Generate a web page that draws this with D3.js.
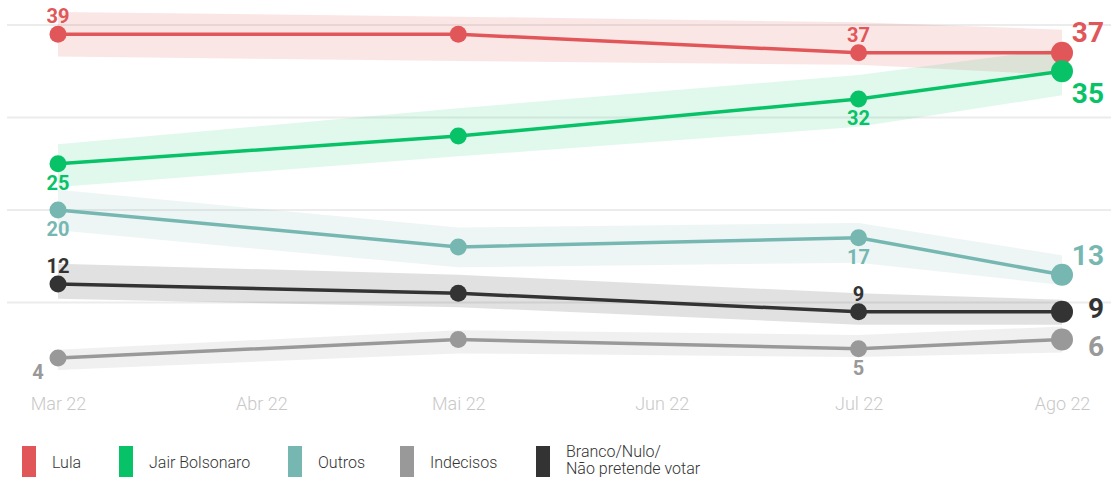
<!DOCTYPE html>
<html><head><meta charset="utf-8">
<script src="https://cdn.jsdelivr.net/npm/d3@7"></script>
<style>html,body{margin:0;padding:0;background:#fff}svg{display:block}</style>
</head><body>
<svg id="c" width="1111" height="478"></svg>
<script>
// ---- data ----
const dates = ["2022-03-01","2022-05-01","2022-07-01","2022-08-01"];
const tickDates = ["2022-03-01","2022-04-01","2022-05-01","2022-06-01","2022-07-01","2022-08-01"];
const tickLabels = ["Mar 22","Abr 22","Mai 22","Jun 22","Jul 22","Ago 22"];
const gridValues = [10,20,30,40];
const seriesNames = ["Lula","Jair Bolsonaro","Outros","Indecisos","Branco/Nulo/\nNão pretende votar"];
const lula = [39,39,37,37];
const lulaLo = [36.6,36.1,35.7,34.6];
const lulaHi = [41.4,40.9,40.3,39.5];
const bolsonaro = [25,28,32,35];
const bolsonaroLo = [22.5,25.8,29.0,32.4];
const bolsonaroHi = [27.1,31.0,34.6,37.5];
const outros = [20,16,17,13];
const outrosLo = [17.8,13.8,14.3,11.9];
const outrosHi = [22.2,18.1,18.6,15.1];
const indecisos = [4,6,5,6];
const indecisosLo = [2.7,4.5,4.1,4.6];
const indecisosHi = [4.9,7.0,6.5,7.4];
const branco = [12,11,9,9];
const brancoLo = [10.4,9.5,7.6,7.6];
const brancoHi = [14.2,13.0,11.0,10.3];
const labeledIdx = [0,2,3];

// ---- styles ----
const colors = ["#e15759","#07c267","#76b7b2","#999999","#333333"];
const bandOpacity = [0.15,0.12,0.13,0.15,0.15];
const seriesVals = [lula,bolsonaro,outros,indecisos,branco];
const seriesLo = [lulaLo,bolsonaroLo,outrosLo,indecisosLo,brancoLo];
const seriesHi = [lulaHi,bolsonaroHi,outrosHi,indecisosHi,brancoHi];
const sideLabel = ["above","below","below","below","above"];
const endDy = [-11,32,-10,16,6];
const drawOrder = [0,1,2,4,3];

const parse = d3.timeParse("%Y-%m-%d");
const svg = d3.select("#c");
const x = d3.scaleTime().domain([parse(dates[0]), parse(dates[dates.length-1])]).range([58,1062]);
const y = d3.scaleLinear().domain([0,40]).range([395,25]);

// grid
svg.append("g").selectAll("line").data(gridValues).join("line")
  .attr("x1",7).attr("x2",1111).attr("y1",d=>y(d)).attr("y2",d=>y(d))
  .attr("stroke","#ececec").attr("stroke-width",2);

// x axis
const xAxis = d3.axisBottom(x).tickValues(tickDates.map(parse))
  .tickFormat((d,i)=>tickLabels[i]).tickSize(0).tickPadding(0);
const ax = svg.append("g").attr("transform","translate(0,395)").call(xAxis);
ax.select(".domain").remove();
ax.selectAll("text").attr("dy",null).attr("y",15)
  .attr("fill","#c8c8c8").attr("font-family","Roboto").attr("font-weight",300).attr("font-size",18);

const area = d3.area().x(d=>x(d.date)).y0(d=>y(d.lo)).y1(d=>y(d.hi));
const line = d3.line().x(d=>x(d.date)).y(d=>y(d.v));

// bands
drawOrder.forEach(s=>{
  const pts = dates.map((d,i)=>({date:parse(d),v:seriesVals[s][i],lo:seriesLo[s][i],hi:seriesHi[s][i]}));
  svg.append("path").datum(pts).attr("d",area).attr("fill",colors[s]).attr("fill-opacity",bandOpacity[s]);
});
// lines, dots, labels
drawOrder.forEach(s=>{
  const pts = dates.map((d,i)=>({date:parse(d),v:seriesVals[s][i],i:i}));
  const g = svg.append("g");
  g.append("path").datum(pts).attr("d",line).attr("fill","none")
    .attr("stroke",colors[s]).attr("stroke-width",3.5);
  g.selectAll("circle").data(pts).join("circle")
    .attr("cx",d=>x(d.date)).attr("cy",d=>y(d.v))
    .attr("r",d=>d.i===pts.length-1?11:8.5).attr("fill",colors[s]);
  g.selectAll("text").data(pts.filter(d=>labeledIdx.includes(d.i))).join("text")
    .attr("font-family","Roboto").attr("font-weight",700).attr("fill",colors[s])
    .attr("font-size",d=>d.i===pts.length-1?28:20)
    .attr("text-anchor",d=>d.i===pts.length-1?"end":"middle")
    .attr("x",d=>{
      if(d.i===pts.length-1) return x(d.date)+42;
      if(s===3 && d.i===0) return x(d.date)-20;
      return x(d.date);
    })
    .attr("y",d=>{
      if(d.i===pts.length-1) return y(d.v)+endDy[s];
      if(s===3 && d.i===0) return y(d.v)+21;
      return y(d.v)+(sideLabel[s]==="above"?-11:26);
    })
    .text(d=>d.v);
});

// legend
const legX = [22,119,288,400,536];
const leg = svg.append("g");
seriesNames.forEach((n,i)=>{
  leg.append("rect").attr("x",legX[i]).attr("y",446).attr("width",14).attr("height",31).attr("fill",colors[i]);
  const lines = n.split("\n");
  const t = leg.append("text").attr("font-family","Roboto").attr("font-weight",300)
    .attr("font-size",16).attr("fill","#333");
  lines.forEach((l,k)=>{
    t.append("tspan").attr("x",legX[i]+30)
     .attr("y", lines.length===1 ? 468 : 457+k*17).text(l);
  });
});
</script>
</body></html>
